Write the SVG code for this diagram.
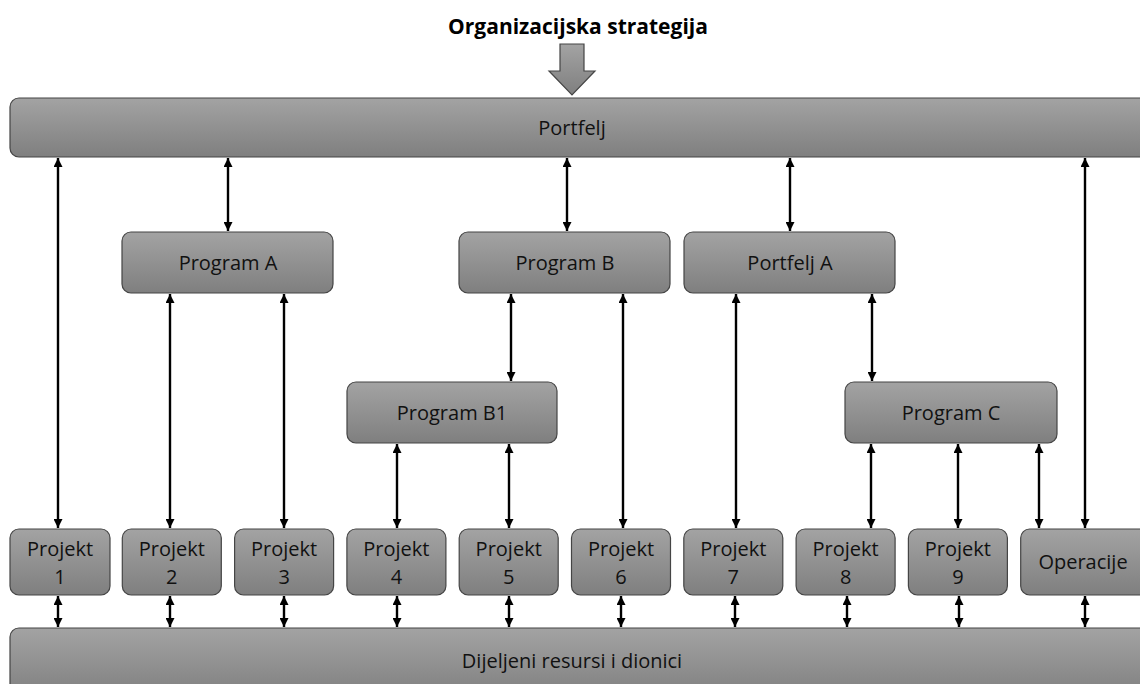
<svg xmlns="http://www.w3.org/2000/svg" width="1140" height="684" viewBox="0 0 1140 684">
<defs>
<linearGradient id="g" x1="0" y1="0" x2="0" y2="1">
<stop offset="0" stop-color="#a3a3a3"/>
<stop offset="1" stop-color="#7f7f7f"/>
</linearGradient>
<marker id="ah" viewBox="0 0 9 9" refX="9" refY="4.5" markerWidth="9" markerHeight="9" markerUnits="userSpaceOnUse" orient="auto-start-reverse">
<path d="M0,0 L9,4.5 L0,9 z" fill="#000"/>
</marker>
<style>
.box{fill:url(#g);stroke:#454545;stroke-width:1.2}
.t{font-family:"Open Sans","Liberation Sans",sans-serif;font-size:20px;fill:#111;text-anchor:middle}
.title{font-family:"Open Sans","Liberation Sans",sans-serif;font-size:21px;font-weight:bold;fill:#000;text-anchor:middle}
.c line{stroke:#000;stroke-width:2.4;marker-start:url(#ah);marker-end:url(#ah)}
</style>
</defs>
<rect width="1140" height="684" fill="#fff"/>
<text class="title" x="578" y="34">Organizacijska strategija</text>
<path d="M560,44 H584 V71 H595 L572,95 L549,71 H560 Z" fill="url(#g)" stroke="#454545" stroke-width="1.2"/>
<g id="portfelj"><rect class="box" x="10" y="98" width="1150" height="59" rx="9"/><text class="t" x="572" y="135">Portfelj</text></g>
<g id="programA"><rect class="box" x="122" y="232" width="211" height="61" rx="9"/><text class="t" x="228" y="270">Program A</text></g>
<g id="programB"><rect class="box" x="459" y="232" width="211" height="61" rx="9"/><text class="t" x="565" y="270">Program B</text></g>
<g id="portfeljA"><rect class="box" x="684" y="232" width="211" height="61" rx="9"/><text class="t" x="790" y="270">Portfelj A</text></g>
<g id="programB1"><rect class="box" x="347" y="382" width="210" height="61" rx="9"/><text class="t" x="452" y="420">Program B1</text></g>
<g id="programC"><rect class="box" x="845" y="382" width="212" height="61" rx="9"/><text class="t" x="951" y="420">Program C</text></g>
<g id="p1"><rect class="box" x="10" y="529" width="100" height="66" rx="9"/><text class="t" x="60" y="556">Projekt</text><text class="t" x="60" y="584">1</text></g>
<g id="p2"><rect class="box" x="122.3" y="529" width="99" height="66" rx="9"/><text class="t" x="171.8" y="556">Projekt</text><text class="t" x="171.8" y="584">2</text></g>
<g id="p3"><rect class="box" x="234.6" y="529" width="99" height="66" rx="9"/><text class="t" x="284.1" y="556">Projekt</text><text class="t" x="284.1" y="584">3</text></g>
<g id="p4"><rect class="box" x="346.9" y="529" width="99" height="66" rx="9"/><text class="t" x="396.4" y="556">Projekt</text><text class="t" x="396.4" y="584">4</text></g>
<g id="p5"><rect class="box" x="459.2" y="529" width="99" height="66" rx="9"/><text class="t" x="508.7" y="556">Projekt</text><text class="t" x="508.7" y="584">5</text></g>
<g id="p6"><rect class="box" x="571.5" y="529" width="99" height="66" rx="9"/><text class="t" x="621" y="556">Projekt</text><text class="t" x="621" y="584">6</text></g>
<g id="p7"><rect class="box" x="683.8" y="529" width="99" height="66" rx="9"/><text class="t" x="733.3" y="556">Projekt</text><text class="t" x="733.3" y="584">7</text></g>
<g id="p8"><rect class="box" x="796.1" y="529" width="99" height="66" rx="9"/><text class="t" x="845.6" y="556">Projekt</text><text class="t" x="845.6" y="584">8</text></g>
<g id="p9"><rect class="box" x="908.4" y="529" width="99" height="66" rx="9"/><text class="t" x="957.9" y="556">Projekt</text><text class="t" x="957.9" y="584">9</text></g>
<g id="operacije"><rect class="box" x="1020.7" y="529" width="140" height="66" rx="9"/><text class="t" x="1083" y="569">Operacije</text></g>
<g id="resursi"><rect class="box" x="10" y="628" width="1150" height="70" rx="9"/><text class="t" x="572" y="668">Dijeljeni resursi i dionici</text></g>
<g class="c" id="connectors">
<line x1="58" y1="158" x2="58" y2="528"/>
<line x1="228" y1="158" x2="228" y2="231"/>
<line x1="567" y1="158" x2="567" y2="231"/>
<line x1="790" y1="158" x2="790" y2="231"/>
<line x1="1085" y1="158" x2="1085" y2="528"/>
<line x1="170" y1="294" x2="170" y2="528"/>
<line x1="284" y1="294" x2="284" y2="528"/>
<line x1="511" y1="294" x2="511" y2="381"/>
<line x1="623" y1="294" x2="623" y2="528"/>
<line x1="736" y1="294" x2="736" y2="528"/>
<line x1="872" y1="294" x2="872" y2="381"/>
<line x1="397" y1="444" x2="397" y2="528"/>
<line x1="509" y1="444" x2="509" y2="528"/>
<line x1="871" y1="444" x2="871" y2="528"/>
<line x1="958" y1="444" x2="958" y2="528"/>
<line x1="1039" y1="444" x2="1039" y2="528"/>
<line x1="58" y1="596" x2="58" y2="627"/>
<line x1="170" y1="596" x2="170" y2="627"/>
<line x1="284" y1="596" x2="284" y2="627"/>
<line x1="397" y1="596" x2="397" y2="627"/>
<line x1="509" y1="596" x2="509" y2="627"/>
<line x1="621" y1="596" x2="621" y2="627"/>
<line x1="735" y1="596" x2="735" y2="627"/>
<line x1="847" y1="596" x2="847" y2="627"/>
<line x1="959" y1="596" x2="959" y2="627"/>
<line x1="1085" y1="596" x2="1085" y2="627"/>
</g>
</svg>
